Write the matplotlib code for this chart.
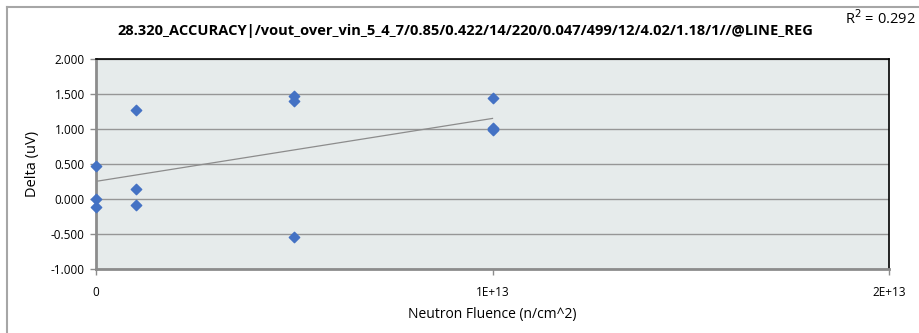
import numpy as np
import matplotlib.pyplot as plt
from matplotlib.lines import Line2D
from matplotlib.ticker import FixedLocator

# Data
fluence = [0, 0, 0, 1e12, 1e12, 1e12, 5e12, 5e12, 5e12, 1e13, 1e13, 1e13, 1e13]
delta = [0.47, 0.00, -0.11, 1.27, 0.15, -0.08, 1.47, 1.40, -0.54, 1.45, 1.02, 0.99, 1.00]

title = "28.320_ACCURACY|/vout_over_vin_5_4_7/0.85/0.422/14/220/0.047/499/12/4.02/1.18/1//@LINE_REG"
r2_text = "R$^2$ = 0.292"
x_ticks = [0, 1e13, 2e13]
x_tick_labels = ["0", "1E+13", "2E+13"]
y_ticks = [-1.0, -0.5, 0.0, 0.5, 1.0, 1.5, 2.0]

plt.rcParams['font.family'] = ['Open Sans', 'DejaVu Sans']

W, H = 919, 333
fig = plt.figure(figsize=(W / 100, H / 100), dpi=100)
ax = fig.add_axes([96 / W, 1 - 269 / H, (889 - 96) / W, (269 - 59) / H])
ax.set_facecolor('#E6EBEB')

# outer chart frame (only left and top visible)
fig.add_artist(Line2D([7 / W, 7 / W], [0, 1 - 7 / H], transform=fig.transFigure, color='#A6A6A6', lw=1.5))
fig.add_artist(Line2D([7 / W, 1], [1 - 7 / H, 1 - 7 / H], transform=fig.transFigure, color='#A6A6A6', lw=1.5))

# linear trendline
x = np.array(fluence)
y = np.array(delta)
slope, intercept = np.polyfit(x, y, 1)
xt = np.array([0, max(fluence)])
ax.plot(xt, slope * xt + intercept, color='#8C8C8C', lw=0.9, zorder=2)

ax.scatter(fluence, delta, marker='D', s=28, color='#4472C4', zorder=3, clip_on=False)

ax.set_xlim(0, 2e13)
ax.set_ylim(-1.0, 2.0)
ax.xaxis.set_major_locator(FixedLocator(x_ticks))
ax.set_xticklabels(x_tick_labels, fontsize=8.5)
ax.set_yticks(y_ticks)
ax.set_yticklabels(["%.3f" % v for v in y_ticks], fontsize=8.5)
ax.yaxis.grid(True, color='#969696', lw=1)
ax.set_axisbelow(True)

for s in ['top', 'right']:
    ax.spines[s].set_color('#000000')
    ax.spines[s].set_linewidth(1.2)
for s in ['left', 'bottom']:
    ax.spines[s].set_color('#8C8C8C')
    ax.spines[s].set_linewidth(2)

ax.tick_params(axis='both', length=4, color='#8C8C8C', width=1, pad=4)
ax.tick_params(axis='x', pad=8)

ax.set_xlabel("Neutron Fluence (n/cm^2)", fontsize=10, labelpad=6)
ax.set_ylabel("Delta (uV)", fontsize=10.5, labelpad=8)

fig.text(465 / W, 1 - 31 / H, title, ha='center', va='center', fontsize=10.5, fontweight='bold')
fig.text(916 / W, 1 - 19 / H, r2_text, ha='right', va='center', fontsize=10.5)

fig.savefig('out.png', dpi=100)
